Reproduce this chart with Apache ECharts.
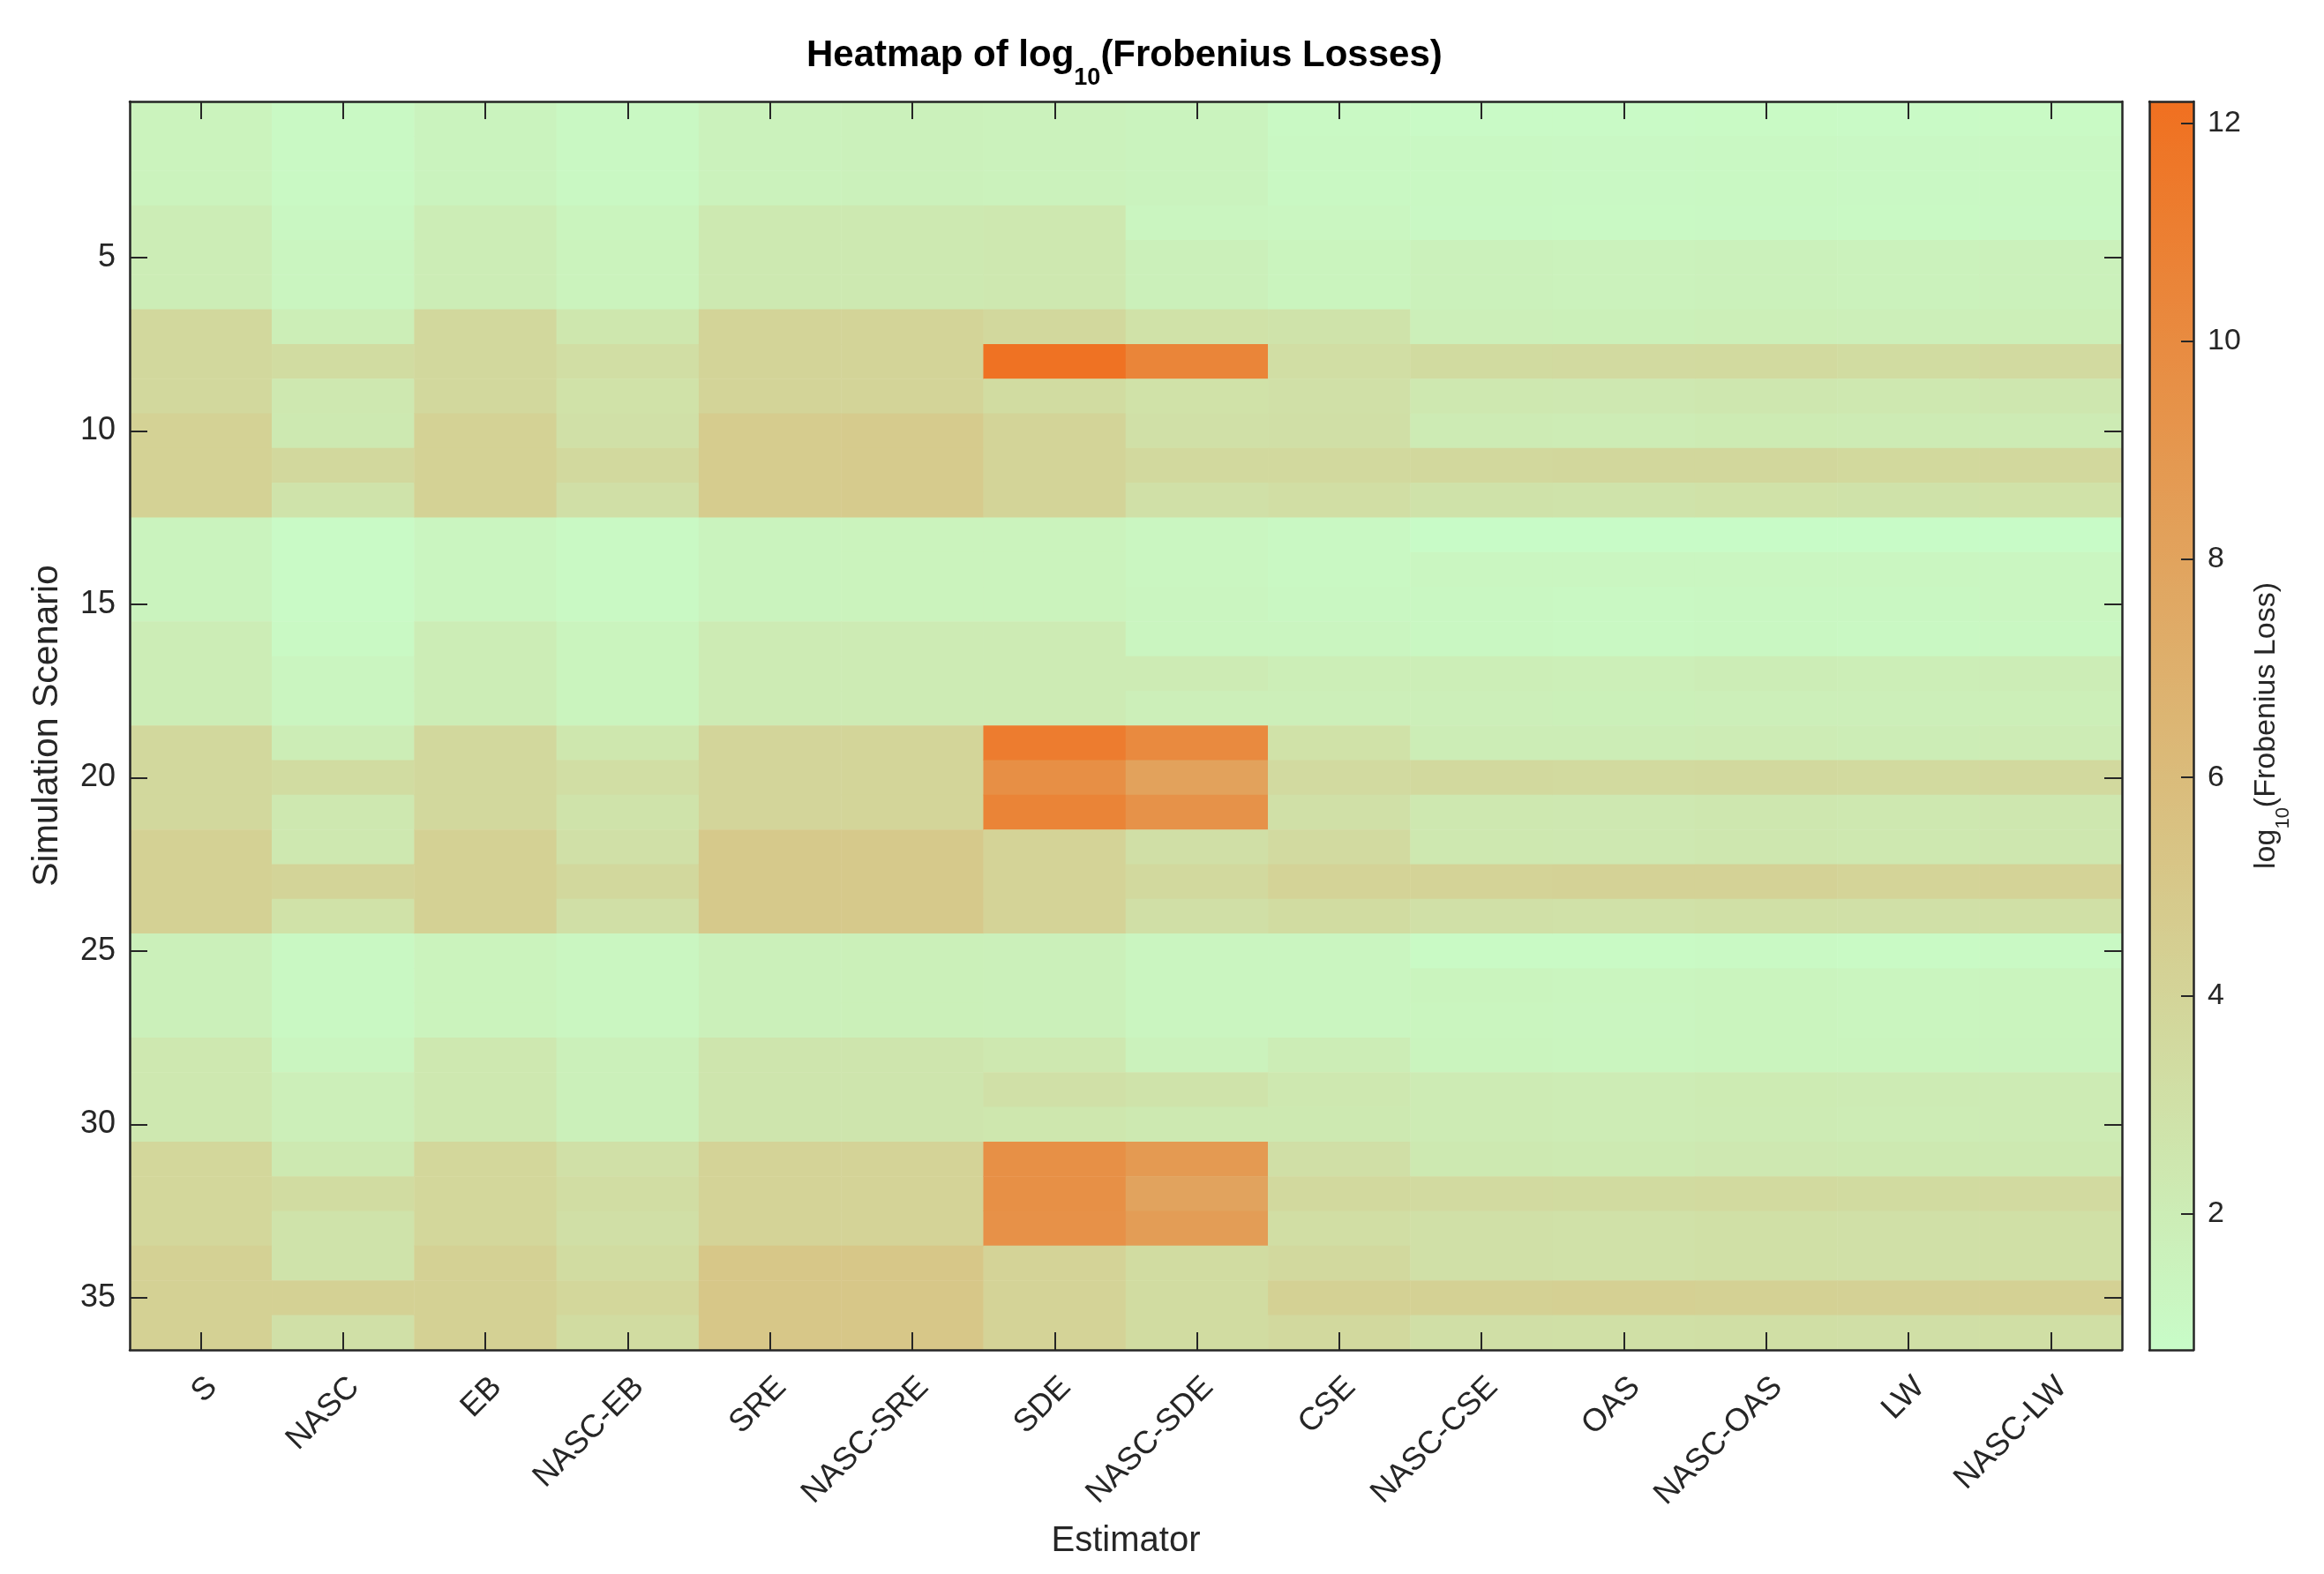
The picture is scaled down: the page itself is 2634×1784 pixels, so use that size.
<!DOCTYPE html>
<html>
<head>
<meta charset="utf-8">
<script src="https://cdn.jsdelivr.net/npm/echarts@6/dist/echarts.min.js"></script>
<style>
html,body{margin:0;padding:0;background:#ffffff;}
#chart{width:2634px;height:1784px;}
</style>
</head>
<body>
<div id="chart"></div>
<script>
// ---------------- DATA ----------------
const estimators = ['S','NASC','EB','NASC-EB','SRE','NASC-SRE','SDE','NASC-SDE','CSE','NASC-CSE','OAS','NASC-OAS','LW','NASC-LW'];
const scenarios = ['1','2','3','4','5','6','7','8','9','10','11','12','13','14','15','16','17','18',
                   '19','20','21','22','23','24','25','26','27','28','29','30','31','32','33','34','35','36'];
const colorbarTicks = [2, 4, 6, 8, 10, 12];
const colorMin = 0.75;
const colorMax = 12.2;

// log10(Frobenius loss), one array per estimator, scenarios 1..36
const S        = [1.5,1.5,1.5, 2.0,2.0,2.0, 3.7,3.7,3.7, 4.2,4.2,4.2, 1.45,1.45,1.45, 2.0,2.0,2.0, 3.7,3.7,3.7, 4.3,4.3,4.3, 1.7,1.7,1.7, 2.4,2.4,2.4, 3.8,3.8,3.8, 4.3,4.3,4.3];
const NASC     = [1.0,1.0,1.0, 1.15,1.3,1.3, 1.9,3.4,2.4, 2.3,3.7,2.8, 0.9,0.9,0.9, 1.0,1.3,1.3, 2.0,3.4,2.4, 2.4,4.0,2.9, 1.1,1.1,1.1, 1.3,1.8,1.8, 2.3,3.4,2.8, 2.8,4.3,3.0];
const EB       = [1.45,1.45,1.45, 1.95,1.95,1.95, 3.7,3.7,3.7, 4.2,4.2,4.2, 1.3,1.3,1.3, 2.0,2.0,2.0, 3.7,3.7,3.7, 4.3,4.3,4.3, 1.5,1.5,1.5, 2.4,2.4,2.4, 3.8,3.8,3.8, 4.3,4.3,4.3];
const NASC_EB  = [1.1,1.1,1.1, 1.4,1.5,1.5, 2.5,3.2,2.9, 3.0,3.6,3.1, 1.0,1.0,1.0, 1.4,1.4,1.4, 2.5,3.2,2.8, 3.0,3.7,3.1, 1.2,1.2,1.2, 1.7,1.7,1.7, 3.0,3.3,3.1, 3.4,3.8,3.4];
const SRE      = [1.6,1.6,1.6, 2.3,2.3,2.3, 4.0,4.0,4.0, 4.7,4.7,4.7, 1.45,1.45,1.45, 2.1,2.1,2.1, 3.9,3.9,3.9, 4.9,4.9,4.9, 1.7,1.7,1.7, 2.6,2.6,2.6, 4.1,4.1,4.1, 5.1,5.1,5.1];
const NASC_SRE = [1.65,1.65,1.65, 2.3,2.3,2.3, 4.0,4.0,4.0, 4.75,4.75,4.75, 1.5,1.5,1.5, 2.1,2.1,2.1, 3.95,3.95,3.95, 4.9,4.9,4.9, 1.75,1.75,1.75, 2.6,2.6,2.6, 4.1,4.1,4.1, 5.1,5.1,5.1];
const SDE      = [1.6,1.6,1.6, 2.4,2.4,2.4, 3.7,12.0,3.4, 4.0,4.0,4.0, 1.5,1.5,1.5, 2.1,2.1,2.1, 11.2,9.7,10.6, 4.1,4.1,4.1, 1.7,1.7,1.7, 2.4,3.0,2.5, 9.6,9.6,9.5, 4.1,4.1,4.1];
const NASC_SDE = [1.45,1.45,1.45, 1.3,1.7,1.7, 2.9,10.5,2.9, 3.0,3.6,3.0, 1.25,1.25,1.3, 1.3,2.1,1.8, 10.1,8.1,9.4, 3.1,3.6,3.1, 1.3,1.3,1.3, 1.6,2.8,2.3, 8.8,8.0,8.5, 3.4,3.4,3.4];
const CSE      = [1.0,1.1,1.1, 1.2,1.4,1.4, 2.8,3.2,3.0, 3.1,3.6,3.2, 1.1,1.1,1.15, 1.3,1.9,1.8, 2.9,3.5,3.0, 3.5,4.1,3.4, 1.3,1.3,1.3, 2.0,2.4,2.3, 3.1,3.6,3.2, 3.6,4.3,3.6];
const NASC_CSE = [0.9,1.1,1.1, 1.05,1.65,1.65, 1.8,3.45,2.4, 2.1,3.7,2.85, 0.85,1.25,1.15, 1.15,1.9,1.8, 2.0,3.6,2.4, 2.4,4.1,3.0, 0.95,1.4,1.35, 1.4,2.1,2.1, 2.3,3.5,3.0, 3.0,4.3,3.1];
const OAS      = [0.9,1.05,1.05, 1.0,1.6,1.6, 1.75,3.5,2.35, 2.05,3.75,2.8, 0.85,1.2,1.1, 1.1,1.85,1.75, 1.95,3.55,2.35, 2.35,4.15,2.95, 0.95,1.35,1.3, 1.35,2.05,2.05, 2.25,3.45,2.95, 2.95,4.35,3.05];
const NASC_OAS = [0.95,1.1,1.1, 1.05,1.65,1.65, 1.85,3.55,2.45, 2.15,3.75,2.9, 0.85,1.25,1.15, 1.15,1.95,1.8, 2.05,3.6,2.45, 2.45,4.15,3.05, 1.0,1.4,1.4, 1.4,2.15,2.1, 2.35,3.55,3.05, 3.05,4.3,3.15];
const LW       = [0.9,1.05,1.05, 1.0,1.6,1.6, 1.8,3.4,2.4, 2.1,3.65,2.85, 0.85,1.2,1.15, 1.1,1.9,1.8, 2.0,3.55,2.4, 2.4,4.05,3.0, 0.95,1.35,1.35, 1.4,2.1,2.05, 2.3,3.45,3.0, 3.0,4.25,3.1];
const NASC_LW  = [0.95,1.1,1.1, 1.05,1.65,1.65, 1.85,3.5,2.45, 2.1,3.7,2.9, 0.85,1.25,1.2, 1.15,1.95,1.85, 2.05,3.6,2.45, 2.45,4.1,3.05, 1.0,1.4,1.4, 1.45,2.1,2.1, 2.3,3.5,3.05, 3.05,4.3,3.15];

// ---------------- CHART ----------------
const columns = [S, NASC, EB, NASC_EB, SRE, NASC_SRE, SDE, NASC_SDE, CSE, NASC_CSE, OAS, NASC_OAS, LW, NASC_LW];
const heatData = [];
columns.forEach((col, xi) => col.forEach((v, yi) => heatData.push([xi, yi, v])));

const FONT = '"Liberation Sans", Arial, Helvetica, sans-serif';
const AX = '#262626';
const every5 = (i) => (i + 1) % 5 === 0;
const lineStyle = { color: AX, width: 2.5 };

const chart = echarts.init(document.getElementById('chart'), null, { renderer: 'canvas', width: 2634, height: 1784 });

const option = {
  backgroundColor: '#ffffff',
  animation: false,
  title: {
    text: '{m|Heatmap of log}{s|10}{m|(Frobenius Losses)}',
    left: 914,
    top: 42,
    padding: 0,
    textStyle: {
      fontFamily: FONT,
      rich: {
        m: { fontSize: 42, fontWeight: 'bold', color: '#000', fontFamily: FONT, lineHeight: 64, verticalAlign: 'top' },
        s: { fontSize: 27, fontWeight: 'bold', color: '#000', fontFamily: FONT, lineHeight: 64, verticalAlign: 'top', padding: [33, 0, 0, 0] }
      }
    }
  },
  grid: [
    { left: 147, top: 115, width: 2258, height: 1415, containLabel: false },
    { left: 2436, top: 115, width: 50, height: 1415, containLabel: false }
  ],
  xAxis: [
    {
      type: 'category', gridIndex: 0, data: estimators, position: 'bottom',
      axisLine: { show: true, lineStyle: lineStyle },
      axisTick: { show: true, inside: true, alignWithLabel: true, length: 20, lineStyle: { color: AX, width: 2 } },
      axisLabel: { rotate: 45, margin: 24, verticalAlign: 'top', fontSize: 36, color: AX, fontFamily: FONT },
      splitLine: { show: false },
      name: 'Estimator', nameLocation: 'middle', nameGap: 197,
      nameTextStyle: { fontSize: 40, color: AX, fontFamily: FONT },
      z: 5
    },
    {
      type: 'category', gridIndex: 0, data: estimators, position: 'top',
      axisLine: { show: true, lineStyle: lineStyle },
      axisTick: { show: true, inside: true, alignWithLabel: true, length: 20, lineStyle: { color: AX, width: 2 } },
      axisLabel: { show: false }, splitLine: { show: false }, z: 5
    },
    {
      type: 'value', gridIndex: 1, min: 0, max: 1, position: 'bottom',
      axisLine: { show: true, onZero: false, lineStyle: lineStyle },
      axisTick: { show: false }, axisLabel: { show: false }, splitLine: { show: false }, z: 5
    },
    {
      type: 'value', gridIndex: 1, min: 0, max: 1, position: 'top',
      axisLine: { show: true, onZero: false, lineStyle: lineStyle },
      axisTick: { show: false }, axisLabel: { show: false }, splitLine: { show: false }, z: 5
    }
  ],
  yAxis: [
    {
      type: 'category', gridIndex: 0, data: scenarios, inverse: true, position: 'left',
      axisLine: { show: true, lineStyle: lineStyle },
      axisTick: { show: true, inside: true, alignWithLabel: true, length: 20, interval: every5, lineStyle: { color: AX, width: 2 } },
      axisLabel: { interval: every5, fontSize: 36, margin: 16, color: AX, fontFamily: FONT },
      splitLine: { show: false },
      name: 'Simulation Scenario', nameLocation: 'middle', nameGap: 73, nameRotate: 90,
      nameTextStyle: { fontSize: 41, color: AX, fontFamily: FONT },
      z: 5
    },
    {
      type: 'category', gridIndex: 0, data: scenarios, inverse: true, position: 'right',
      axisLine: { show: true, lineStyle: lineStyle },
      axisTick: { show: true, inside: true, alignWithLabel: true, length: 20, interval: every5, lineStyle: { color: AX, width: 2 } },
      axisLabel: { show: false }, splitLine: { show: false }, z: 5
    },
    {
      type: 'value', gridIndex: 1, min: colorMin, max: colorMax, position: 'left',
      axisLine: { show: true, onZero: false, lineStyle: lineStyle },
      axisTick: { show: false }, axisLabel: { show: false }, splitLine: { show: false }, z: 5
    },
    {
      type: 'value', gridIndex: 1, min: colorMin, max: colorMax, position: 'right',
      axisLine: { show: true, onZero: false, lineStyle: lineStyle },
      axisTick: { show: true, inside: true, length: 14, customValues: colorbarTicks, lineStyle: { color: AX, width: 2 } },
      axisLabel: { customValues: colorbarTicks, fontSize: 34, margin: 16, color: AX, fontFamily: FONT },
      splitLine: { show: false },
      name: '{m|log}{s|10}{m|(Frobenius Loss)}', nameLocation: 'middle', nameGap: 66, nameRotate: 90,
      nameTextStyle: {
        fontFamily: FONT,
        rich: {
          m: { fontSize: 34, color: AX, fontFamily: FONT, lineHeight: 56, verticalAlign: 'top' },
          s: { fontSize: 22, color: AX, fontFamily: FONT, lineHeight: 56, verticalAlign: 'top', padding: [25, 0, 0, 0] }
        }
      },
      z: 5
    }
  ],
  visualMap: {
    type: 'continuous',
    min: colorMin, max: colorMax,
    seriesIndex: 0,
    calculable: false,
    orient: 'vertical',
    left: 2436, top: 115,
    itemWidth: 50, itemHeight: 1415,
    padding: 0,
    text: null,
    z: 1,
    inRange: { color: ['#c8fcc8', '#f07020'] }
  },
  series: [
    {
      type: 'heatmap',
      xAxisIndex: 0, yAxisIndex: 0,
      data: heatData,
      itemStyle: { borderWidth: 0 },
      emphasis: { disabled: true },
      progressive: 0
    }
  ]
};
chart.setOption(option);
</script>
</body>
</html>
